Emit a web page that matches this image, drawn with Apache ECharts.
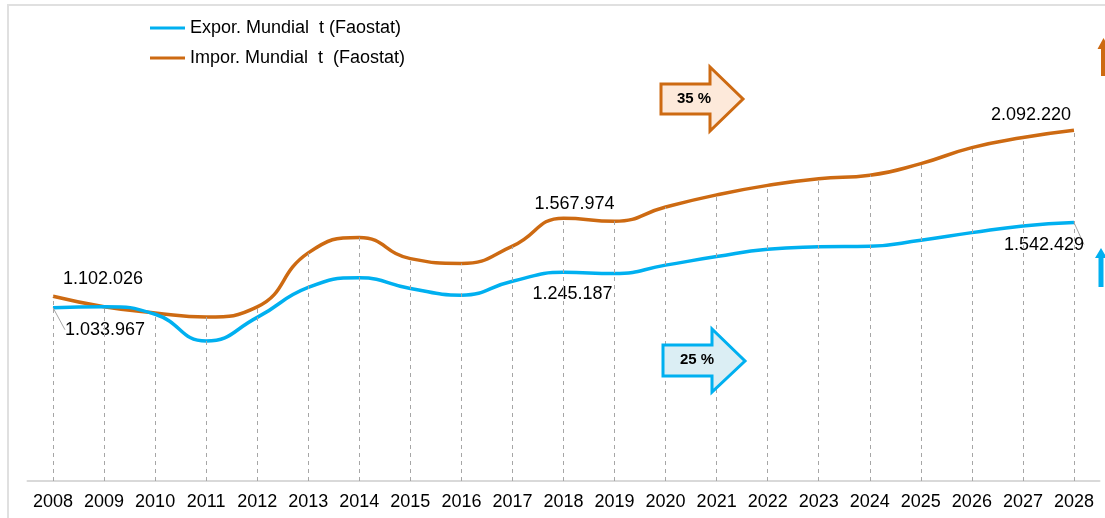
<!DOCTYPE html>
<html>
<head>
<meta charset="utf-8">
<script src="https://cdn.jsdelivr.net/npm/echarts@6/dist/echarts.min.js"></script>
<style>
  html, body { margin: 0; padding: 0; background: #fff; }
  #chart { width: 1105px; height: 518px; }
</style>
</head>
<body>
<div id="chart"></div>
<script>
const years = ['2008', '2009', '2010', '2011', '2012', '2013', '2014', '2015', '2016', '2017', '2018',
  '2019', '2020', '2021', '2022', '2023', '2024', '2025', '2026', '2027', '2028']
const expor = [1033967, 1040000, 995000, 835000, 976000, 1155000, 1212000, 1149000, 1109000, 1192000, 1245187,
  1238000, 1288000, 1339000, 1383000, 1397000, 1401000, 1437000, 1482000, 1522000, 1542429]
const impor = [1102026, 1040000, 1003000, 979000, 1039000, 1361000, 1453000, 1327000, 1298000, 1401000, 1567974,
  1550000, 1635000, 1707000, 1764000, 1804000, 1824000, 1894000, 1989000, 2049000, 2092220]
const exporName = 'Expor. Mundial  t (Faostat)'
const imporName = 'Impor. Mundial  t  (Faostat)'
const exporChange = '25 %'
const imporChange = '35 %'
const labeledIdx = [0, 10, 20]

const BLUE = '#00b0f0'
const ORANGE = '#cd6a12'
const FONT = 'Liberation Sans, Arial, sans-serif'

// label nudges, in pixels, keyed by data index
const exporShift = { 0: [52, 8], 10: [9, 8], 20: [-30, 8] }
const imporShift = { 0: [50, -3], 10: [11, 0], 20: [-43, -1] }

const fmt = v => String(v).replace(/\B(?=(\d{3})+(?!\d))/g, '.')

const withLabels = (values, pos, leader) => values.map((v, i) => {
  if (!labeledIdx.includes(i)) return v
  return {
    value: v,
    label: { show: true, position: pos },
    labelLine: { show: leader.includes(i), lineStyle: { color: '#a6a6a6', width: 1 } },
  }
})

const dropLines = years.map((y, i) => [
  { coord: [y, 0] },
  { coord: [y, Math.max(impor[i], expor[i])] },
])

const arrow = (pts, fill, stroke) => ({
  type: 'polygon',
  z: 10,
  shape: { points: pts },
  style: { fill: fill, stroke: stroke, lineWidth: 3, lineJoin: 'miter' },
})

const myChart = echarts.init(document.getElementById('chart'), null, { renderer: 'canvas' })
myChart.setOption({
  animation: false,
  backgroundColor: '#fff',
  textStyle: { fontFamily: FONT },
  grid: { left: 27.5, right: 5.5, top: 62, bottom: 37 },
  legend: {
    data: [exporName, imporName],
    orient: 'vertical',
    left: 150,
    top: 19,
    padding: 0,
    itemWidth: 35,
    itemHeight: 3,
    itemGap: 12,
    icon: 'rect',
    textStyle: { fontSize: 18, color: '#000', fontFamily: FONT },
  },
  xAxis: {
    type: 'category',
    data: years,
    boundaryGap: true,
    axisTick: { show: false },
    axisLine: { lineStyle: { color: '#d9d9d9', width: 2 } },
    axisLabel: { interval: 0, fontSize: 18, color: '#000', margin: 12, fontFamily: FONT },
  },
  yAxis: {
    type: 'value',
    min: 0,
    max: 2500000,
    show: false,
    splitLine: { show: false },
  },
  series: [
    {
      name: 'drop',
      type: 'line',
      data: [],
      z: 1,
      silent: true,
      markLine: {
        silent: true,
        symbol: 'none',
        label: { show: false },
        lineStyle: { color: '#a6a6a6', width: 1, type: [4, 4] },
        data: dropLines,
      },
    },
    {
      name: exporName,
      type: 'line',
      z: 3,
      data: withLabels(expor, 'bottom', [0, 20]),
      smooth: 0.5,
      symbol: 'circle',
      symbolSize: 0.1,
      showSymbol: true,
      color: BLUE,
      lineStyle: { color: BLUE, width: 3.5 },
      label: { show: false, fontSize: 18, color: '#000', formatter: p => fmt(p.value), fontFamily: FONT },
      labelLayout: p => {
        const s = exporShift[p.dataIndex] || [0, 0]
        return { dx: s[0], dy: s[1] }
      },
    },
    {
      name: imporName,
      type: 'line',
      z: 2,
      data: withLabels(impor, 'top', []),
      smooth: 0.5,
      symbol: 'circle',
      symbolSize: 0.1,
      showSymbol: true,
      color: ORANGE,
      lineStyle: { color: ORANGE, width: 3.5 },
      label: { show: false, fontSize: 18, color: '#000', formatter: p => fmt(p.value), fontFamily: FONT },
      labelLayout: p => {
        const s = imporShift[p.dataIndex] || [0, 0]
        return { dx: s[0], dy: s[1] }
      },
    },
  ],
  graphic: [
    {
      type: 'rect',
      z: 0,
      silent: true,
      shape: { x: 8, y: 5, width: 1200, height: 600 },
      style: { fill: null, stroke: '#e0e0e0', lineWidth: 2 },
    },
    arrow([[661, 84], [710, 84], [710, 67], [743, 99], [710, 131], [710, 114], [661, 114]], '#fde9da', ORANGE),
    {
      type: 'text', z: 11, x: 694, y: 99,
      style: { text: imporChange, fontSize: 15, fontWeight: 'bold', fill: '#000', align: 'center', verticalAlign: 'middle', fontFamily: FONT },
    },
    arrow([[663, 345], [712, 345], [712, 329], [745, 361], [712, 392], [712, 376], [663, 376]], '#dbeef4', BLUE),
    {
      type: 'text', z: 11, x: 697, y: 360,
      style: { text: exporChange, fontSize: 15, fontWeight: 'bold', fill: '#000', align: 'center', verticalAlign: 'middle', fontFamily: FONT },
    },
    {
      type: 'polygon', z: 10,
      shape: { points: [[1103.5, 38], [1109.5, 49], [1106, 49], [1106, 76], [1101, 76], [1101, 49], [1097.5, 49]] },
      style: { fill: ORANGE },
    },
    {
      type: 'polygon', z: 10,
      shape: { points: [[1101, 248], [1107, 258], [1103.5, 258], [1103.5, 287], [1098.5, 287], [1098.5, 258], [1095, 258]] },
      style: { fill: BLUE },
    },
  ],
})
</script>
</body>
</html>
